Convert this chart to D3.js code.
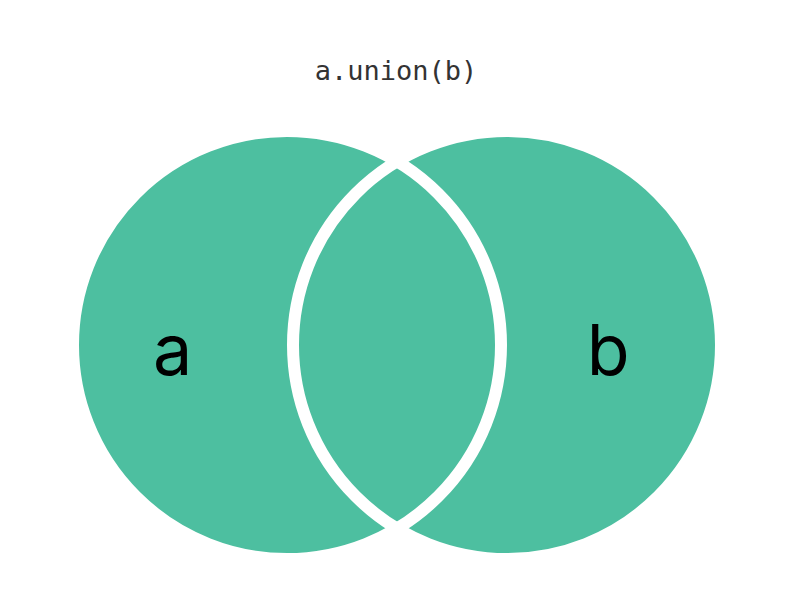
<!DOCTYPE html>
<html><head><meta charset="utf-8">
<script src="https://cdn.jsdelivr.net/npm/d3@7"></script>
<style>body{margin:0;background:#fff}</style>
</head><body>
<svg id="chart" width="792" height="606"></svg>
<script>
const title = "a.union(b)";
const sets = ["a", "b"];
const setPos = [0, 1];      // position of each set's centre along the axis
const labelPos = [-0.52, 1.46];

const svg = d3.select("#chart");
const x = d3.scaleLinear().domain([0, 1]).range([287, 507]);
const cy = 345, r = 214;
const fill = "#4dbfa0";

svg.append("text")
  .attr("x", 396).attr("y", 80)
  .attr("text-anchor", "middle")
  .attr("font-family", "DejaVu Sans Mono, monospace")
  .attr("font-size", 27)
  .attr("fill", "#333")
  .text(title);

// fills
svg.selectAll("circle.fill").data(setPos).join("circle")
  .attr("class", "fill")
  .attr("cx", d => x(d)).attr("cy", cy).attr("r", r)
  .attr("fill", fill);

// white outlines, drawing the boundary of both sets
svg.selectAll("circle.edge").data(setPos).join("circle")
  .attr("class", "edge")
  .attr("cx", d => x(d)).attr("cy", cy).attr("r", r)
  .attr("fill", "none").attr("stroke", "#fff").attr("stroke-width", 12);

svg.selectAll("text.label").data(sets).join("text")
  .attr("class", "label")
  .attr("x", (d, i) => x(labelPos[i])).attr("y", 375)
  .attr("text-anchor", "middle")
  .attr("font-family", "Inter, Roboto, sans-serif")
  .attr("font-size", 70)
  .attr("fill", "#000")
  .text(d => d);
</script>
</body></html>
